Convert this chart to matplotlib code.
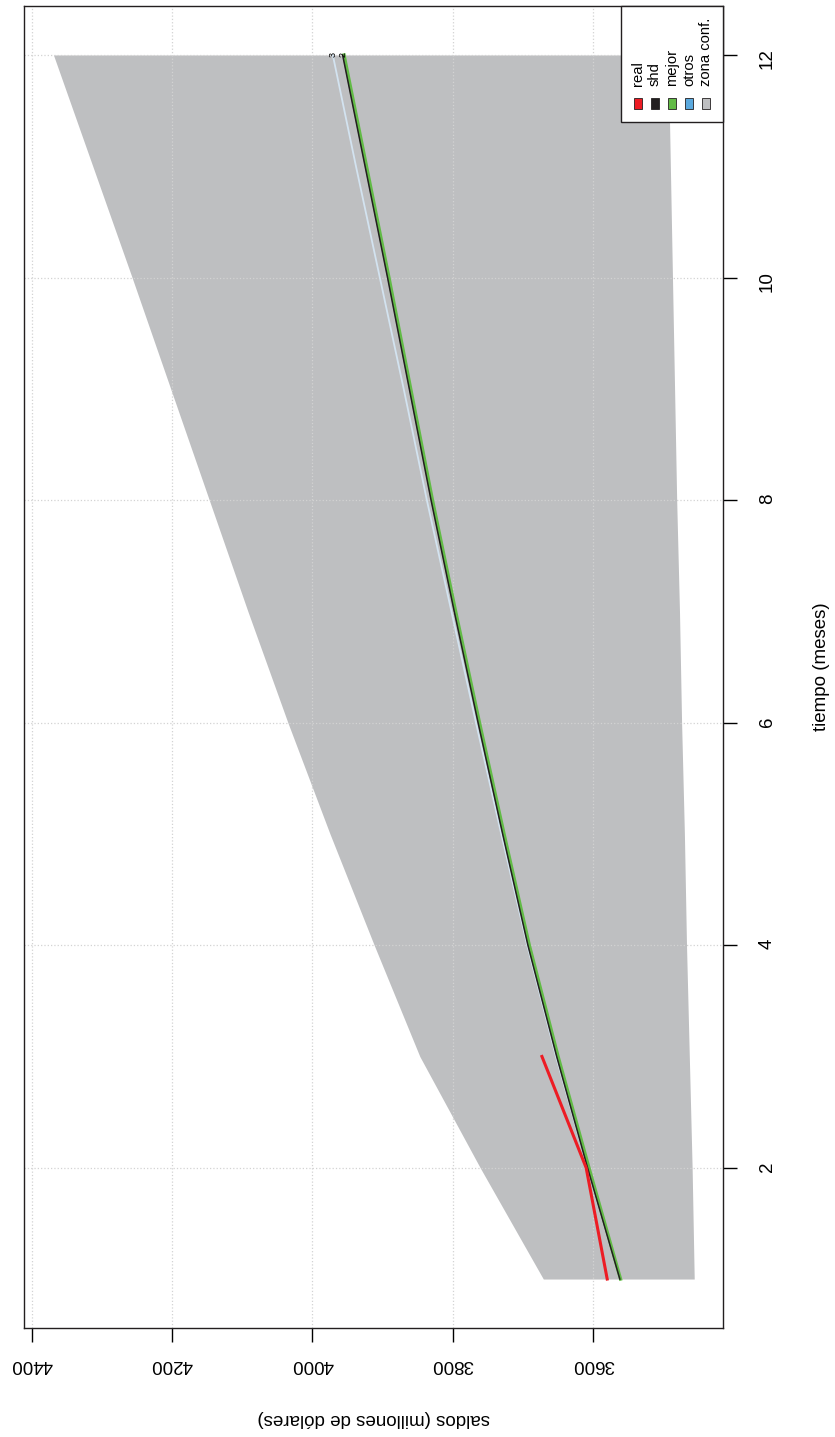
import matplotlib
matplotlib.use("Agg")
import matplotlib.pyplot as plt
from matplotlib.patches import Rectangle
import numpy as np

plt.rcParams['font.family'] = ['Liberation Sans', 'DejaVu Sans']

# datos (saldos en millones de dolares)
meses = [1, 2, 3, 4, 5, 6, 7, 8, 9, 10, 11, 12]
conf_inf = [3456, 3459, 3463, 3467, 3470, 3474, 3477, 3481, 3484, 3487, 3490, 3493]
conf_sup = [3671, 3761, 3847, 3912, 3975, 4035, 4092, 4147, 4202, 4257, 4313, 4369]
shd = [3562, 3608, 3652, 3693, 3729, 3764, 3798, 3831, 3862, 3893, 3925, 3957]
mejor = [3561, 3606, 3650, 3691, 3727, 3762, 3796, 3829, 3860, 3891, 3923, 3955]
otros = [3562, 3608, 3653, 3694, 3731, 3767, 3802, 3837, 3870, 3904, 3938, 3971]
meses_real = [1, 2, 3]
real = [3580, 3610, 3673]

saldo_ticks = [3600, 3800, 4000, 4200, 4400]
mes_ticks = [2, 4, 6, 8, 10, 12]

leg_labels = ["real", "shd", "mejor", "otros", "zona conf."]
leg_colors = ["#ED1C24", "#231F20", "#62BB46", "#5BA9DE", "#BEBFC1"]

W, H = 835, 1437
fig = plt.figure(figsize=(W / 100, H / 100), dpi=100)
L, R, T, B = 24, 723, 6, 1328
ax = fig.add_axes([L / W, 1 - B / H, (R - L) / W, (B - T) / H])

# graph is rotated: tiempo runs upward, saldos runs leftward
ax.fill_betweenx(meses, conf_inf, conf_sup, color="#BEBFC1", lw=0, zorder=1)
ax.plot(otros, meses, color="#D3E3F0", lw=1.3, zorder=2)
ax.plot(mejor, meses, color="#62BB46", lw=2.4, zorder=3)
ax.plot(shd, meses, color="#231F20", lw=1.1, zorder=4)
ax.plot(real, meses_real, color="#ED1C24", lw=2.2, zorder=5)
ax.text(otros[-1], meses[-1], "3", fontsize=6.5, rotation=90, ha="center", va="center", zorder=6)
ax.text(shd[-1], meses[-1], "2", fontsize=6.5, rotation=90, ha="center", va="center", zorder=6)

ax.set_xlim(4411, 3415)
ax.set_ylim(0.56, 12.44)
ax.set_xticks(saldo_ticks)
ax.set_yticks(mes_ticks)
ax.yaxis.tick_right()
ax.grid(True, color="#D3D3D3", linestyle=":", linewidth=0.9)
ax.tick_params(axis="x", length=10, width=1, pad=10, labelsize=13.5, labelrotation=180)
ax.tick_params(axis="y", length=10, width=1, pad=16, labelsize=13.5, labelrotation=90)
for s in ax.spines.values():
    s.set_linewidth(1.0)
    s.set_color("#231F20")

fig.text((L + R) / 2 / W, 1 - 1419 / H, "saldos (millones de dólares)", rotation=180,
         ha="center", va="center", fontsize=13.5)
fig.text(822 / W, 1 - (T + B) / 2 / H, "tiempo (meses)", rotation=90,
         ha="center", va="center", fontsize=13.5)

# legend built by hand (rotated)
def fx(x):
    return (x - L) / (R - L)

def fy(y):
    return (B - y) / (B - T)

ax.add_patch(Rectangle((fx(621), fy(122)), fx(723) - fx(621), fy(6) - fy(122),
                       transform=ax.transAxes, facecolor="white", edgecolor="#231F20",
                       lw=1.0, clip_on=False, zorder=10))
for i, (lab, col) in enumerate(zip(leg_labels, leg_colors)):
    cx = 638 + 17 * i
    ax.add_patch(Rectangle((fx(cx - 4), fy(108.5)), 8 / (R - L), 11 / (B - T),
                           transform=ax.transAxes, facecolor=col, edgecolor="#231F20",
                           lw=0.6, clip_on=False, zorder=11))
    ax.text(fx(cx), fy(86), lab, transform=ax.transAxes, rotation=90,
            ha="center", va="bottom", fontsize=10.6, zorder=11)

fig.savefig("out.png", dpi=100)
